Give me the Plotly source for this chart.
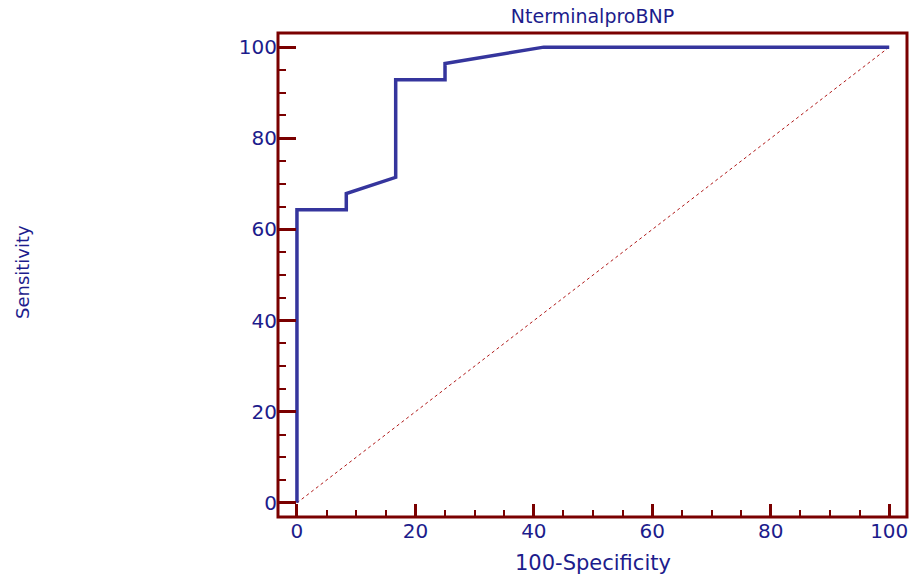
import plotly.graph_objects as go

# ROC curve points (100-Specificity, Sensitivity)
fpr = [0, 0, 8.33, 8.33, 16.67, 16.67, 25.0, 25.0, 41.67, 100]
tpr = [0, 64.29, 64.29, 67.86, 71.43, 92.86, 92.86, 96.43, 100, 100]
diag_x = [0, 100]
diag_y = [0, 100]
tick_vals = [0, 20, 40, 60, 80, 100]

TEXT = "#1c1c8c"
AXIS = "#7a0000"
LINE = "#35359d"
FONT = "DejaVu Sans"

W, H = 911, 578
L, R, T, B = 278, 4, 33, 61

fig = go.Figure()
fig.add_trace(go.Scatter(x=diag_x, y=diag_y, mode="lines",
                         line=dict(color="#b01818", width=1, dash="dot"),
                         hoverinfo="skip", showlegend=False))
fig.add_trace(go.Scatter(x=fpr, y=tpr, mode="lines",
                         line=dict(color=LINE, width=3.5),
                         showlegend=False))

axis_common = dict(
    showgrid=False, zeroline=False, showline=False, automargin=False,
    ticks="inside", tickcolor=AXIS, tickwidth=3,
    tickvals=tick_vals,
    tickfont=dict(family=FONT, size=20, color=TEXT),
)

fig.update_layout(
    template="none",
    width=W, height=H,
    margin=dict(l=L, r=R, t=T, b=B, pad=0),
    paper_bgcolor="white", plot_bgcolor="white",
    title=dict(text="NterminalproBNP", x=0.5, xanchor="center", xref="paper",
               y=1 - 16 / H, yanchor="middle", yref="container",
               font=dict(family=FONT, size=19, color=TEXT)),
    xaxis=dict(range=[-3.2, 103.0], ticklen=13,
               minor=dict(dtick=5, tick0=0, ticks="inside", ticklen=7,
                          tickwidth=2, tickcolor=AXIS),
               **axis_common),
    yaxis=dict(range=[-3.1, 103.1], ticklen=18,
               minor=dict(dtick=5, tick0=0, ticks="inside", ticklen=8,
                          tickwidth=2, tickcolor=AXIS),
               **axis_common),
    shapes=[dict(type="rect", xref="paper", yref="paper", x0=0, x1=1, y0=0, y1=1,
                 line=dict(color=AXIS, width=3), fillcolor="rgba(0,0,0,0)",
                 layer="above")],
    annotations=[
        dict(text="100-Specificity", xref="paper", yref="paper",
             x=0.5, y=-(563 - 517) / (H - T - B), xanchor="center", yanchor="middle",
             showarrow=False, font=dict(family=FONT, size=21, color=TEXT)),
        dict(text="Sensitivity", xref="paper", yref="paper",
             x=(22 - L) / (W - L - R), y=0.5 - (272 - 275) / (H - T - B),
             xanchor="center", yanchor="middle", textangle=-90,
             showarrow=False, font=dict(family=FONT, size=18, color=TEXT)),
    ],
)

fig.write_html("out.html")
